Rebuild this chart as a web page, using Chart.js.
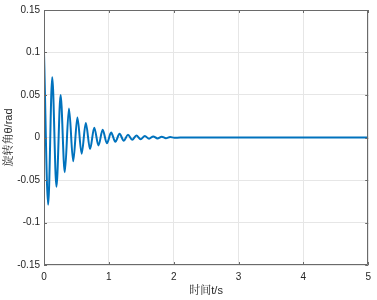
<!DOCTYPE html>
<html>
<head>
<meta charset="utf-8">
<script src="https://cdn.jsdelivr.net/npm/chart.js@4/dist/chart.umd.min.js"></script>
<style>
  html, body { margin: 0; padding: 0; background: #ffffff; }
  #wrap { width: 377px; height: 300px; position: relative; }
</style>
</head>
<body>
<div id="wrap"><canvas id="c" width="377" height="300"></canvas></div>
<script>
const timeS = [0, 0.064, 0.127, 0.192, 0.256, 0.320, 0.385, 0.450, 0.515, 0.580,
  0.645, 0.710, 0.775, 0.840, 0.905, 0.970, 1.035, 1.100, 1.165, 1.230,
  1.295, 1.360, 1.425, 1.490, 1.555, 1.620, 1.685, 1.750, 1.815, 1.880,
  1.945, 2.010, 2.100, 5.000];
// Rotation angle θ (rad) at those times
const thetaRad = [0.100, -0.079, 0.071, -0.058, 0.050, -0.041, 0.034, -0.028, 0.0236, -0.019,
  0.017, -0.0136, 0.0116, -0.0093, 0.0090, -0.0068, 0.0058, -0.0050, 0.0043, -0.0037,
  0.0032, -0.0027, 0.0024, -0.0020, 0.0018, -0.0015, 0.0013, -0.0011, 0.0010, -0.0008,
  0.0006, -0.0004, 0, 0];
const xTicks = [0, 1, 2, 3, 4, 5];
const yTicks = [-0.15, -0.1, -0.05, 0, 0.05, 0.1, 0.15];
const xTitle = '时间t/s';
const yTitle = '旋转角θ/rad';

const points = timeS.map((t, i) => ({ x: t, y: thetaRad[i] }));

const AXIS = '#6a6a6a';
const TEXT = '#262626';
const FONT = "'Liberation Sans', Arial, 'Noto Sans CJK SC', sans-serif";
const CJKFONT = "'Liberation Sans', 'Noto Serif CJK SC', 'Noto Sans CJK SC', serif";

const boxPlugin = {
  id: 'matlabBox',
  afterDatasetsDraw(chart) {
    const { ctx, chartArea: a, scales } = chart;
    ctx.save();
    ctx.strokeStyle = AXIS;
    ctx.lineWidth = 1;
    ctx.beginPath();
    ctx.rect(Math.round(a.left) + 0.5, Math.round(a.top) + 0.5,
      Math.round(a.right - a.left) - 1, Math.round(a.bottom - a.top) - 1);
    ctx.stroke();
    const L = 3;
    ctx.beginPath();
    xTicks.forEach(v => {
      const px = Math.round(scales.x.getPixelForValue(v)) + 0.5;
      ctx.moveTo(px, a.bottom); ctx.lineTo(px, a.bottom - L);
      ctx.moveTo(px, a.top); ctx.lineTo(px, a.top + L);
    });
    yTicks.forEach(v => {
      const py = Math.round(scales.y.getPixelForValue(v)) + 0.5;
      ctx.moveTo(a.left, py); ctx.lineTo(a.left + L, py);
      ctx.moveTo(a.right, py); ctx.lineTo(a.right - L, py);
    });
    ctx.stroke();
    ctx.restore();
  }
};

new Chart(document.getElementById('c'), {
  type: 'line',
  data: {
    datasets: [{
      data: points,
      borderColor: '#0072BD',
      borderWidth: 2,
      pointRadius: 0,
      cubicInterpolationMode: 'monotone',
      fill: false
    }]
  },
  options: {
    responsive: false,
    animation: false,
    devicePixelRatio: 1,
    layout: { padding: { left: 0, right: 7, top: 6, bottom: 0 } },
    plugins: { legend: { display: false }, tooltip: { enabled: false } },
    scales: {
      x: {
        type: 'linear', min: 0, max: 5,
        afterFit(s) { s.height = 35; },
        afterBuildTicks(s) { s.ticks = xTicks.map(v => ({ value: v })); },
        grid: { color: '#e6e6e6', drawTicks: false },
        border: { display: false },
        ticks: { color: TEXT, font: { family: FONT, size: 10 }, padding: 6, maxRotation: 0,
          callback: v => String(v) },
        title: { display: true, text: xTitle, color: TEXT,
          font: { family: CJKFONT, size: 11 }, padding: { top: 0, bottom: 2 } }
      },
      y: {
        type: 'linear', min: -0.15, max: 0.15,
        afterFit(s) { s.width = 44; },
        afterBuildTicks(s) { s.ticks = yTicks.map(v => ({ value: v })); },
        grid: { color: '#e6e6e6', drawTicks: false },
        border: { display: false },
        ticks: { color: TEXT, font: { family: FONT, size: 10 }, padding: 4,
          callback: v => String(Math.round(v * 100) / 100) },
        title: { display: true, text: yTitle, color: TEXT,
          font: { family: CJKFONT, size: 11 }, padding: { top: 2, bottom: 0 } }
      }
    }
  },
  plugins: [boxPlugin]
});
</script>
</body>
</html>
